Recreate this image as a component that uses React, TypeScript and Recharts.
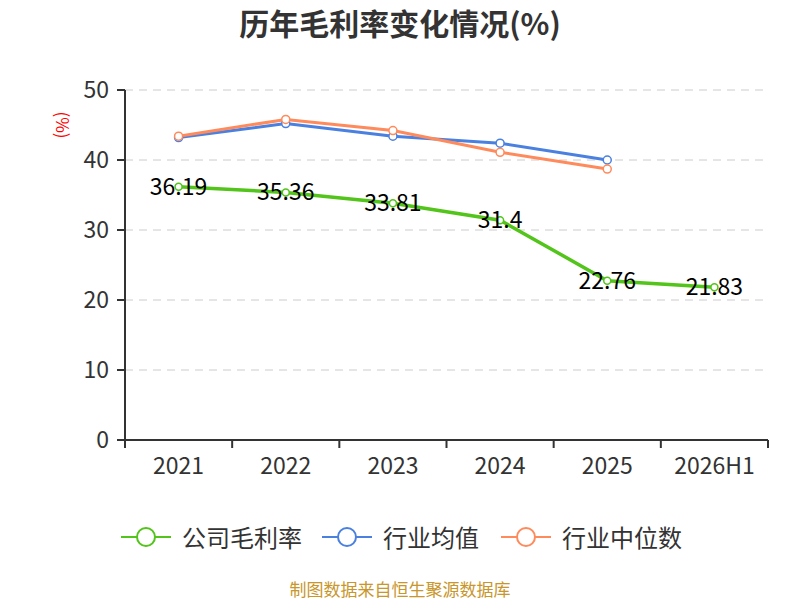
import React from "react";
import {
  LineChart,
  Line,
  XAxis,
  YAxis,
  CartesianGrid,
  LabelList,
} from "recharts";

const years = ["2021", "2022", "2023", "2024", "2025", "2026H1"];
const companyMargin = [36.19, 35.36, 33.81, 31.4, 22.76, 21.83];
const industryMean = [43.2, 45.2, 43.4, 42.4, 40.0, null];
const industryMedian = [43.4, 45.8, 44.2, 41.1, 38.7, null];
const yTicks = [0, 10, 20, 30, 40, 50];

const GREEN = "#52c41a";
const BLUE = "#4a80e0";
const ORANGE = "#ff8a5b";
const FONT = "'Noto Sans CJK SC', 'Noto Sans', sans-serif";

const chartData = years.map((year, i) => ({
  year,
  company: companyMargin[i],
  mean: industryMean[i],
  median: industryMedian[i],
}));

// plot area: x 125..768, y 90..440
const PLOT_LEFT = 125;
const PLOT_RIGHT = 768;
const PLOT_BOTTOM = 440;
const BAND = (PLOT_RIGHT - PLOT_LEFT) / years.length;

// eslint-disable-next-line @typescript-eslint/no-explicit-any
const XTick = (props: any) => {
  const { x, payload, index } = props;
  const left = x - BAND / 2;
  return (
    <g>
      <line x1={left} y1={PLOT_BOTTOM} x2={left} y2={PLOT_BOTTOM + 8} stroke="#333" strokeWidth={2} />
      {index === years.length - 1 && (
        <line x1={left + BAND} y1={PLOT_BOTTOM} x2={left + BAND} y2={PLOT_BOTTOM + 8} stroke="#333" strokeWidth={2} />
      )}
      <text x={x} y={PLOT_BOTTOM + 34} textAnchor="middle" fontSize={23} fill="#333" fontFamily={FONT}>
        {payload.value}
      </text>
    </g>
  );
};

// eslint-disable-next-line @typescript-eslint/no-explicit-any
const ValueLabel = (props: any) => {
  const { x, y, value } = props;
  return (
    <text x={x} y={y} dy={-2} textAnchor="middle" dominantBaseline="central" fontSize={23} fill="#000" fontFamily={FONT}>
      {value}
    </text>
  );
};

const legendItems = [
  { name: "公司毛利率", color: GREEN, left: 121 },
  { name: "行业均值", color: BLUE, left: 322 },
  { name: "行业中位数", color: ORANGE, left: 501 },
];

export default function App() {
  return (
    <div style={{ position: "absolute", left: 0, top: 0, width: 800, height: 600, background: "#fff", fontFamily: FONT, overflow: "hidden" }}>
      <div style={{ position: "absolute", top: 2, width: 800, textAlign: "center", fontSize: 30, lineHeight: "40px", fontWeight: 700, color: "#333" }}>
        历年毛利率变化情况(%)
      </div>
      <div
        style={{
          position: "absolute",
          left: 48,
          top: 115,
          width: 30,
          height: 20,
          lineHeight: "20px",
          textAlign: "center",
          fontSize: 17,
          color: "#ff0000",
          transform: "rotate(90deg)",
        }}
      >
        (%)
      </div>
      <LineChart
        width={800}
        height={600}
        data={chartData}
        margin={{ top: 90, right: 32, bottom: 130, left: 65 }}
      >
        <CartesianGrid vertical={false} stroke="#ccc" strokeDasharray="8 6" />
        <XAxis
          dataKey="year"
          height={30}
          padding={{ left: BAND / 2, right: BAND / 2 }}
          axisLine={{ stroke: "#333", strokeWidth: 2 }}
          tickLine={false}
          tick={<XTick />}
          interval={0}
        />
        <YAxis
          width={60}
          domain={[0, 50]}
          ticks={yTicks}
          axisLine={{ stroke: "#333", strokeWidth: 2 }}
          tickLine={{ stroke: "#333", strokeWidth: 2 }}
          tickSize={8}
          tickMargin={8}
          tick={{ fontSize: 23, fill: "#333", fontFamily: FONT }}
        />
        <Line
          dataKey="mean"
          stroke={BLUE}
          strokeWidth={3}
          dot={{ r: 4, fill: "#fff", stroke: BLUE, strokeWidth: 1.5 }}
          isAnimationActive={false}
        />
        <Line
          dataKey="median"
          stroke={ORANGE}
          strokeWidth={3}
          dot={{ r: 4, fill: "#fff", stroke: ORANGE, strokeWidth: 1.5 }}
          isAnimationActive={false}
        />
        <Line
          dataKey="company"
          stroke={GREEN}
          strokeWidth={3.5}
          dot={{ r: 3.5, fill: "#fff", stroke: GREEN, strokeWidth: 1.5 }}
          isAnimationActive={false}
        >
          <LabelList dataKey="company" content={<ValueLabel />} />
        </Line>
      </LineChart>
      {legendItems.map((item) => (
        <div
          key={item.name}
          style={{ position: "absolute", left: item.left, top: 522, height: 30, display: "flex", alignItems: "center" }}
        >
          <svg width={50} height={24}>
            <line x1={0} y1={12} x2={50} y2={12} stroke={item.color} strokeWidth={2} />
            <circle cx={25} cy={12} r={9} fill="#fff" stroke={item.color} strokeWidth={2} />
          </svg>
          <span style={{ marginLeft: 11, fontSize: 24, lineHeight: "30px", color: "#333" }}>{item.name}</span>
        </div>
      ))}
      <div style={{ position: "absolute", top: 579, width: 800, textAlign: "center", fontSize: 17, lineHeight: "20px", color: "#c8962a" }}>
        制图数据来自恒生聚源数据库
      </div>
    </div>
  );
}
